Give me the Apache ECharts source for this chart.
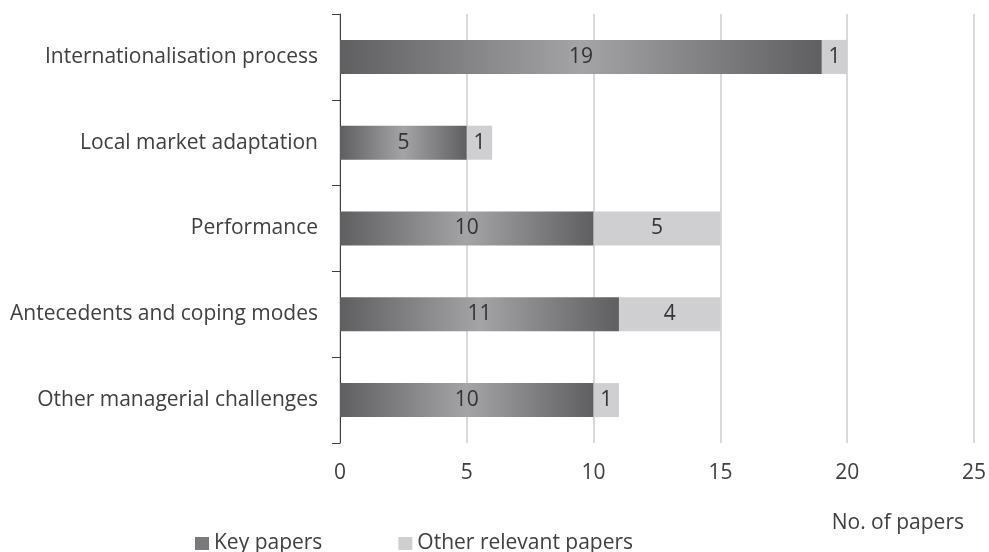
<!DOCTYPE html>
<html>
<head>
<meta charset="utf-8">
<script src="https://cdn.jsdelivr.net/npm/echarts@6/dist/echarts.min.js"></script>
<style>
  html, body { margin: 0; padding: 0; background: #fff; }
  #chart { width: 989px; height: 552px; }
</style>
</head>
<body>
<div id="chart"></div>
<script>
  // categories listed top to bottom
  var categories = [
    'Internationalisation process',
    'Local market adaptation',
    'Performance',
    'Antecedents and coping modes',
    'Other managerial challenges'
  ];
  var keyPapers = [19, 5, 10, 11, 10];
  var otherPapers = [1, 1, 5, 4, 1];
  var xTicks = [0, 5, 10, 15, 20, 25];

  var font = '"Open Sans", sans-serif';
  var chart = echarts.init(document.getElementById('chart'));

  var keyGradient = new echarts.graphic.LinearGradient(0, 0, 1, 0, [
    {offset: 0, color: '#5f5f61'},
    {offset: 0.5, color: '#a4a4a6'},
    {offset: 1, color: '#5f5f61'}
  ]);

  chart.setOption({
    animation: false,
    textStyle: {fontFamily: font},
    title: {
      text: 'No. of papers',
      right: 20,
      top: 508,
      textStyle: {fontFamily: font, fontSize: 21, fontWeight: 'normal', color: '#404040'}
    },
    legend: {
      left: 190,
      top: 528,
      itemWidth: 14,
      itemHeight: 13,
      itemGap: 76,
      icon: 'rect',
      textStyle: {fontFamily: font, fontSize: 21, color: '#404040'},
      data: [
        {name: 'Key papers', itemStyle: {color: '#7a7a7c'}},
        {name: 'Other relevant papers', itemStyle: {color: '#cfcfd1'}}
      ]
    },
    grid: {left: 340, right: 14, top: 14, bottom: 109, containLabel: false},
    xAxis: {
      type: 'value',
      min: xTicks[0],
      max: xTicks[xTicks.length - 1],
      interval: 5,
      axisLine: {show: false},
      axisTick: {show: false},
      axisLabel: {fontFamily: font, fontSize: 21, color: '#404040', margin: 20},
      splitLine: {lineStyle: {color: '#d9d9d9', width: 2}}
    },
    yAxis: {
      type: 'category',
      inverse: true,
      data: categories,
      axisLine: {lineStyle: {color: '#404040', width: 1}},
      axisTick: {show: true, length: 8, lineStyle: {color: '#404040'}},
      axisLabel: {fontFamily: font, fontSize: 21, color: '#404040', margin: 22}
    },
    series: [
      {
        name: 'Key papers',
        type: 'bar',
        stack: 'total',
        barWidth: 34,
        data: keyPapers,
        itemStyle: {color: keyGradient},
        label: {show: true, position: 'inside', fontFamily: font, fontSize: 21, color: '#333'}
      },
      {
        name: 'Other relevant papers',
        type: 'bar',
        stack: 'total',
        barWidth: 34,
        data: otherPapers,
        itemStyle: {color: '#cfcfd1'},
        label: {show: true, position: 'inside', fontFamily: font, fontSize: 21, color: '#333'}
      }
    ]
  });

  window.addEventListener('resize', function () {
    chart.resize();
  });
</script>
</body>
</html>
